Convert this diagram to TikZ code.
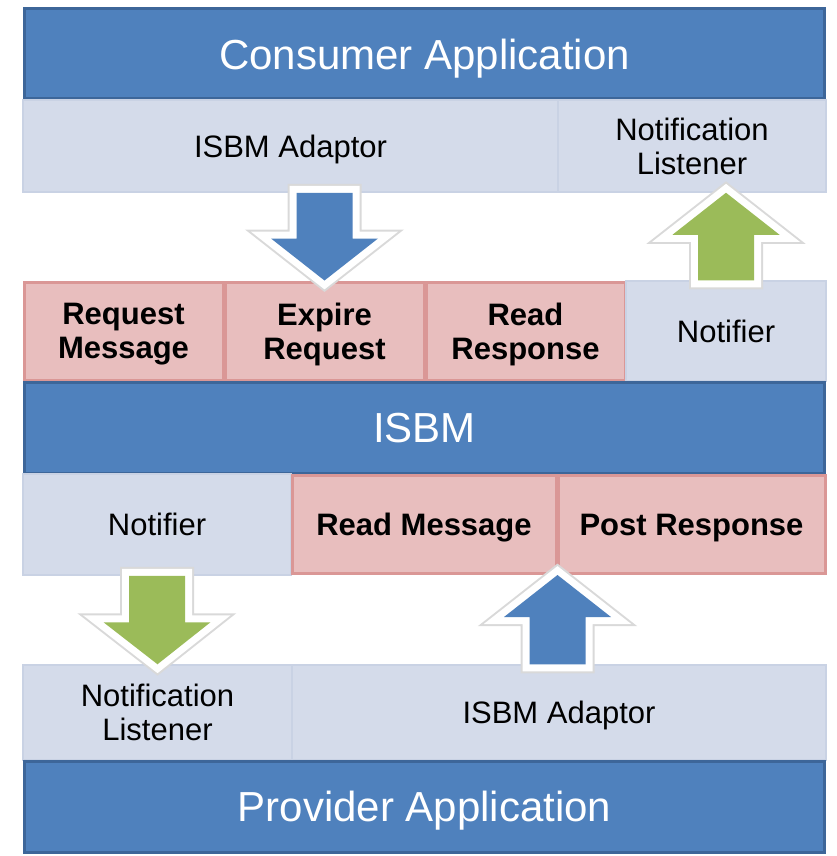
\documentclass[tikz,border=0pt]{standalone}
\usepackage{fontspec}
\setmainfont{Liberation Sans}
\usepackage{tikz}
\usetikzlibrary{calc}

\definecolor{appblue}{HTML}{4F81BD}
\definecolor{appedge}{HTML}{3D6699}
\definecolor{partfill}{HTML}{D4DBEA}
\definecolor{partedge}{HTML}{C9D2E4}
\definecolor{opfill}{HTML}{E8BEBE}
\definecolor{opedge}{HTML}{DA9796}
\definecolor{notegreen}{HTML}{9BBB59}

\tikzset{
  app/.style={fill=appblue, draw=appedge, line width=3pt, text=white, text depth=0pt,
    font=\fontsize{42}{46}\selectfont, minimum width=800pt, minimum height=90pt, inner sep=0pt},
  part/.style={fill=partfill, draw=partedge, line width=1.5pt, text depth=0pt,
    font=\fontsize{31}{34}\selectfont, align=center, inner sep=0pt},
  op/.style={fill=opfill, draw=opedge, line width=3pt, text depth=0pt,
    font=\bfseries\fontsize{31}{34}\selectfont, align=center, inner sep=0pt},
  blockarrow/.style={fill=#1, line join=miter,
    preaction={draw=black!15, line width=18pt, line join=miter},
    preaction={draw=white, line width=14pt, line join=miter}}
}

% fat vertical arrow from #2 to #3, filled with #1
\newcommand{\blockarrow}[3]{%
  \path[blockarrow=#1] let \p1=(#2), \p2=(#3), \n1={ifthenelse(\y2>\y1,1,-1)}, \n2={\y2-\n1*42} in
    ({\x1-28pt},\y1) -- ({\x1-28pt},{\n2*1pt}) -- ({\x1-53.5pt},{\n2*1pt}) -- (\x2,\y2)
    -- ({\x1+53.5pt},{\n2*1pt}) -- ({\x1+28pt},{\n2*1pt}) -- ({\x1+28pt},\y1) -- cycle;
}

\begin{document}
\begin{tikzpicture}[x=1pt, y=1pt]
\useasboundingbox (0,0) rectangle (836,-856);

% consumer side
\node[app] (consumer) at (424.5,-54) {Consumer Application};
\node[part, minimum width=535pt, minimum height=92pt] (adaptorC) at (290.5,-146) {ISBM Adaptor};
\node[part, minimum width=268pt, minimum height=92pt] (listenerC) at (692,-146) {Notification\\Listener};

% isbm
\node[op, minimum width=199pt, minimum height=98pt] (reqmsg) at (123.5,-331) {Request\\Message};
\node[op, minimum width=199pt, minimum height=98pt] (expire) at (324.5,-331) {Expire\\Request};
\node[op, minimum width=199pt, minimum height=98pt] (readresp) at (525.5,-331) {Read\\Response};
\node[part, minimum width=200pt, minimum height=100pt] (notifierC) at (726,-331) {Notifier};
\node[app, minimum height=91pt] (isbm) at (424.5,-427.5) {ISBM};
\node[part, minimum width=268pt, minimum height=101pt] (notifierP) at (157,-524.5) {Notifier};
\node[op, minimum width=264pt, minimum height=98pt] (readmsg) at (424,-524.5) {Read Message};
\node[op, minimum width=267pt, minimum height=98pt] (postresp) at (691.5,-524.5) {Post Response};

% provider side
\node[part, minimum width=269pt, minimum height=95pt] (listenerP) at (157.5,-712.5) {Notification\\Listener};
\node[part, minimum width=534pt, minimum height=95pt] (adaptorP) at (559,-712.5) {ISBM Adaptor};
\node[app, minimum height=91pt] (provider) at (424.5,-806.5) {Provider Application};

% calls and notifications
\blockarrow{appblue}{expire |- adaptorC.south}{expire.north}
\blockarrow{notegreen}{notifierC.north}{notifierC |- listenerC.south}
\blockarrow{notegreen}{notifierP.south}{listenerP.north}
\blockarrow{appblue}{readmsg.south east |- adaptorP.north}{readmsg.south east}
\end{tikzpicture}
\end{document}
